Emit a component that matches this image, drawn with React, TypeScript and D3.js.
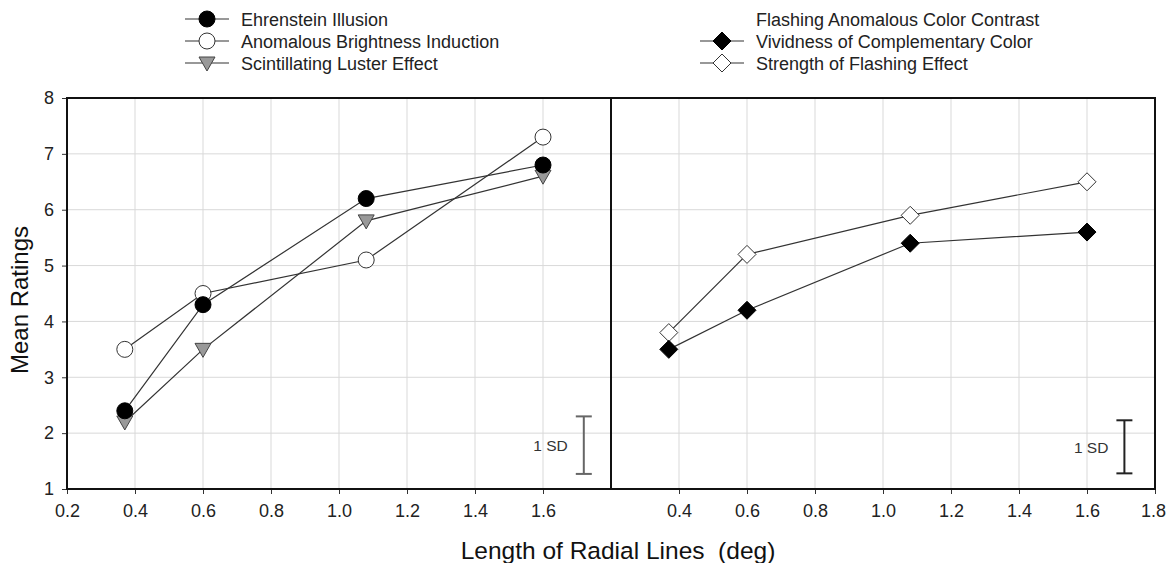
import React, { useEffect, useRef } from "react";
import * as d3 from "d3";

// line lengths (deg) where ratings were collected
const lengths = [0.37, 0.6, 1.08, 1.6];

// left panel
const ehrenstein = [2.4, 4.3, 6.2, 6.8];
const brightness = [3.5, 4.5, 5.1, 7.3];
const luster = [2.2, 3.5, 5.8, 6.6];

// right panel
const vividness = [3.5, 4.2, 5.4, 5.6];
const flashing = [3.8, 5.2, 5.9, 6.5];

const yTicks = [1, 2, 3, 4, 5, 6, 7, 8];
const leftXTicks = [0.2, 0.4, 0.6, 0.8, 1.0, 1.2, 1.4, 1.6];
const rightXTicks = [0.4, 0.6, 0.8, 1.0, 1.2, 1.4, 1.6, 1.8];
const gridX = [0.4, 0.6, 0.8, 1.0, 1.2, 1.4, 1.6];

// 1 SD bars: [x, low, high]
const sdLeft = [1.72, 1.27, 2.3];
const sdRight = [1.71, 1.28, 2.23];

const FONT = "'Liberation Sans', Arial, sans-serif";

function App() {
  const ref = useRef<SVGSVGElement>(null);

  useEffect(() => {
    const svg = d3.select(ref.current);
    svg.selectAll("*").remove();

    const top = 98, bottom = 489;
    const x0 = 67, xMid = 611, x1 = 1155;

    const y = d3.scaleLinear().domain([1, 8]).range([bottom, top]);
    const xl = d3.scaleLinear().domain([0.2, 1.8]).range([x0, xMid]);
    const xr = d3.scaleLinear().domain([0.2, 1.8]).range([xMid, x1]);

    const grid = svg.append("g").attr("stroke", "#d9d9d9").attr("stroke-width", 1);
    [xl, xr].forEach(x => {
      grid.selectAll(null).data(gridX).join("line")
        .attr("x1", d => x(d)).attr("x2", d => x(d))
        .attr("y1", top).attr("y2", bottom);
    });
    grid.selectAll(null).data(yTicks.slice(1, -1)).join("line")
      .attr("x1", x0).attr("x2", x1)
      .attr("y1", d => y(d)).attr("y2", d => y(d));

    // axes
    const yAxis = svg.append("g").attr("transform", `translate(${x0},0)`)
      .call(d3.axisLeft(y).tickValues(yTicks).tickFormat(d3.format("d")).tickSize(5).tickSizeOuter(0));
    const xAxisL = svg.append("g").attr("transform", `translate(0,${bottom})`)
      .call(d3.axisBottom(xl).tickValues(leftXTicks).tickFormat(d3.format(".1f")).tickSize(5).tickSizeOuter(0));
    const xAxisR = svg.append("g").attr("transform", `translate(0,${bottom})`)
      .call(d3.axisBottom(xr).tickValues(rightXTicks).tickFormat(d3.format(".1f")).tickSize(5).tickSizeOuter(0));
    [yAxis, xAxisL, xAxisR].forEach(a => {
      a.select(".domain").remove();
      a.selectAll("line").attr("stroke", "#333");
      a.selectAll("text").attr("font-family", FONT).attr("font-size", 18).attr("fill", "#222");
    });
    yAxis.selectAll("text").attr("x", -13);
    xAxisL.selectAll("text").attr("y", 15);
    xAxisR.selectAll("text").attr("y", 15);
    // keep the last label inside the page
    xAxisR.selectAll("text").filter((d: any) => d === 1.8).attr("x", -2);

    // frame
    svg.append("rect").attr("x", x0).attr("y", top).attr("width", x1 - x0).attr("height", bottom - top)
      .attr("fill", "none").attr("stroke", "#111").attr("stroke-width", 2);
    svg.append("line").attr("x1", xMid).attr("x2", xMid).attr("y1", top).attr("y2", bottom)
      .attr("stroke", "#111").attr("stroke-width", 2);

    const symbols: Record<string, (g: any) => void> = {
      filledCircle: g => g.append("circle").attr("r", 8).attr("fill", "#000").attr("stroke", "#000"),
      openCircle: g => g.append("circle").attr("r", 8).attr("fill", "#fff").attr("stroke", "#333"),
      triangle: g => g.append("path").attr("d", "M-8,-6L8,-6L0,8Z").attr("fill", "#999").attr("stroke", "#444"),
      filledDiamond: g => g.append("path").attr("d", "M0,-9L9,0L0,9L-9,0Z").attr("fill", "#000").attr("stroke", "#000"),
      openDiamond: g => g.append("path").attr("d", "M0,-9L9,0L0,9L-9,0Z").attr("fill", "#fff").attr("stroke", "#333"),
    };

    const line = (x: d3.ScaleLinear<number, number>) =>
      d3.line<number>().x((_, i) => x(lengths[i])).y(d => y(d));

    const series = [
      { v: brightness, x: xl, s: "openCircle" },
      { v: luster, x: xl, s: "triangle" },
      { v: ehrenstein, x: xl, s: "filledCircle" },
      { v: flashing, x: xr, s: "openDiamond" },
      { v: vividness, x: xr, s: "filledDiamond" },
    ];
    series.forEach(({ v, x }) => {
      svg.append("path").datum(v).attr("d", line(x)).attr("fill", "none")
        .attr("stroke", "#333").attr("stroke-width", 1.2);
    });
    series.forEach(({ v, x, s }) => {
      v.forEach((d, i) => {
        const g = svg.append("g").attr("transform", `translate(${x(lengths[i])},${y(d)})`);
        symbols[s](g);
      });
    });

    // 1 SD bars
    [[sdLeft, xl, "#666"], [sdRight, xr, "#222"]].forEach(([sd, x, c]: any) => {
      const g = svg.append("g").attr("stroke", c).attr("stroke-width", 2);
      const cx = x(sd[0]);
      g.append("line").attr("x1", cx).attr("x2", cx).attr("y1", y(sd[1])).attr("y2", y(sd[2]));
      g.append("line").attr("x1", cx - 8).attr("x2", cx + 8).attr("y1", y(sd[1])).attr("y2", y(sd[1]));
      g.append("line").attr("x1", cx - 8).attr("x2", cx + 8).attr("y1", y(sd[2])).attr("y2", y(sd[2]));
      svg.append("text").attr("x", cx - 16).attr("y", y((sd[1] + sd[2]) / 2) + 6)
        .attr("text-anchor", "end").attr("font-family", FONT).attr("font-size", 15.5)
        .attr("fill", "#333").text("1 SD");
    });

    // axis titles
    svg.append("text").attr("transform", `translate(28,300) rotate(-90)`)
      .attr("text-anchor", "middle").attr("font-family", FONT).attr("font-size", 24)
      .attr("fill", "#111").text("Mean Ratings");
    svg.append("text").attr("x", 618).attr("y", 559)
      .attr("text-anchor", "middle").attr("font-family", FONT).attr("font-size", 24.5)
      .attr("fill", "#111").attr("xml:space", "preserve").text("Length of Radial Lines  (deg)");

    // legends
    const legend = (lx: number, items: { label: string; s: string | null }[]) => {
      items.forEach((it, i) => {
        const ly = 19 + i * 22;
        if (it.s) {
          svg.append("line").attr("x1", lx - 22).attr("x2", lx + 22).attr("y1", ly).attr("y2", ly)
            .attr("stroke", "#333").attr("stroke-width", 1.2);
          const g = svg.append("g").attr("transform", `translate(${lx},${ly})`);
          symbols[it.s](g);
        }
        svg.append("text").attr("x", lx + 34).attr("y", ly + 6.5).attr("font-family", FONT)
          .attr("font-size", 18).attr("fill", "#222").text(it.label);
      });
    };
    legend(207, [
      { label: "Ehrenstein Illusion", s: "filledCircle" },
      { label: "Anomalous Brightness Induction", s: "openCircle" },
      { label: "Scintillating Luster Effect", s: "triangle" },
    ]);
    legend(722, [
      { label: "Flashing Anomalous Color Contrast", s: null },
      { label: "Vividness of Complementary Color", s: "filledDiamond" },
      { label: "Strength of Flashing Effect", s: "openDiamond" },
    ]);
  }, []);

  return (
    <svg ref={ref} width={1166} height={563}
      style={{ position: "absolute", left: 0, top: 0, background: "#fff" }} />
  );
}

export default App;
